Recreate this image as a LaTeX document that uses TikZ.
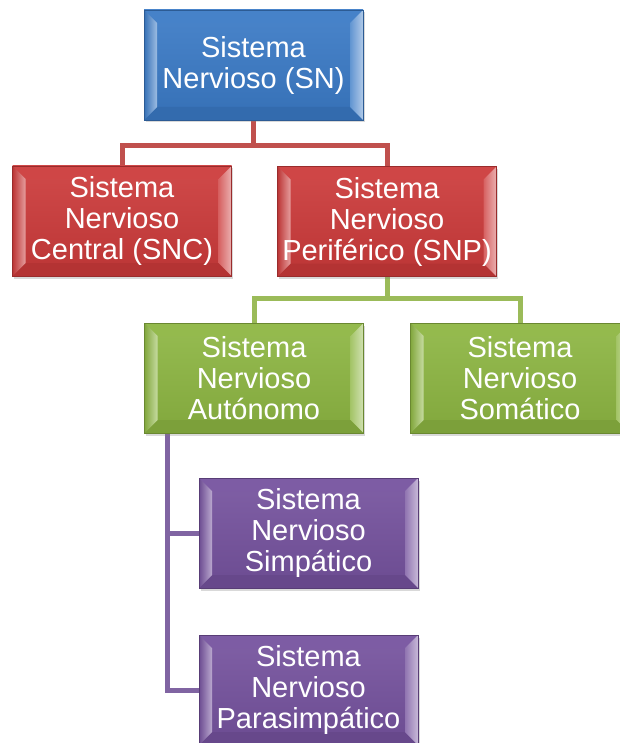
\documentclass[tikz,border=0pt]{standalone}
\usepackage{fontspec}
\setmainfont{Liberation Sans}
\usetikzlibrary{calc,shadows,backgrounds}
\definecolor{cblue}{RGB}{58,122,198}
\definecolor{cred}{RGB}{204,58,58}
\definecolor{cgreen}{RGB}{141,182,66}
\definecolor{cpurple}{RGB}{117,82,158}
\definecolor{lred}{RGB}{192,80,77}
\definecolor{lgreen}{RGB}{155,187,89}
\definecolor{lpurple}{RGB}{128,100,162}
\tikzset{
  box/.style={rectangle, minimum width=219pt, minimum height=110pt, inner sep=0pt,
    align=center, text=white, font=\fontsize{29}{31}\selectfont,
    fill=#1, draw=#1!75!black, line width=0.6pt,
    drop shadow={opacity=0.3, shadow xshift=1.5pt, shadow yshift=-2.5pt},
    path picture={
      \coordinate (bvA) at (path picture bounding box.north west);
      \coordinate (bvB) at (path picture bounding box.north east);
      \coordinate (bvC) at (path picture bounding box.south east);
      \coordinate (bvD) at (path picture bounding box.south west);
      \coordinate (bva) at ($(bvA)+(13pt,-13pt)$);
      \coordinate (bvb) at ($(bvB)+(-13pt,-13pt)$);
      \coordinate (bvc) at ($(bvC)+(-13pt,13pt)$);
      \coordinate (bvd) at ($(bvD)+(13pt,13pt)$);
      \shade[top color=#1!92!white, bottom color=#1!92!black] (bvA) rectangle (bvC);
      \fill[#1!94!white] (bvA) -- (bvB) -- (bvb) -- (bva) -- cycle;
      \fill[#1!88!black] (bvD) -- (bvC) -- (bvc) -- (bvd) -- cycle;
      \shade[left color=#1!92!black, right color=#1!50!white] (bvA) -- (bva) -- (bvd) -- (bvD) -- cycle;
      \shade[left color=#1!80!white, right color=#1!40!white] (bvB) -- (bvb) -- (bvc) -- (bvC) -- cycle;
    }},
  conn/.style={line width=5pt}
}
\begin{document}
\begin{tikzpicture}[x=1pt,y=-1pt]
\useasboundingbox (0,0) rectangle (620,743);
\clip (0,0) rectangle (620,743);
\node[box=cblue] (sn) at (253.5,65) {Sistema\\Nervioso (SN)};
\node[box=cred] (snc) at (122,221) {Sistema\\Nervioso\\Central (SNC)};
\node[box=cred] (snp) at (387,221.5) {Sistema\\Nervioso\\Periférico (SNP)};
\node[box=cgreen] (sna) at (254,378) {Sistema\\Nervioso\\Autónomo};
\node[box=cgreen] (sns) at (520,378) {Sistema\\Nervioso\\Somático};
\node[box=cpurple] (simp) at (308.5,533) {Sistema\\Nervioso\\Simpático};
\node[box=cpurple] (para) at (308.5,690) {Sistema\\Nervioso\\Parasimpático};
\coordinate (rj) at ($(sn.south)+(0,-25pt)$);
\coordinate (gj) at ($(snp.south)+(0,-22pt)$);
\coordinate (pj) at ($(sna.south west)+(23pt,0)$);
\begin{scope}[on background layer]
\draw[conn,lred] (sn.south) -- (rj);
\draw[conn,lred] (snc.north) |- (rj) -| (snp.north);
\draw[conn,lgreen] (snp.south) -- (gj);
\draw[conn,lgreen] (sna.north) |- (gj) -| (sns.north);
\draw[conn,lpurple] (pj) |- (simp.west);
\draw[conn,lpurple] (pj) |- (para.west);
\end{scope}
\end{tikzpicture}
\end{document}
